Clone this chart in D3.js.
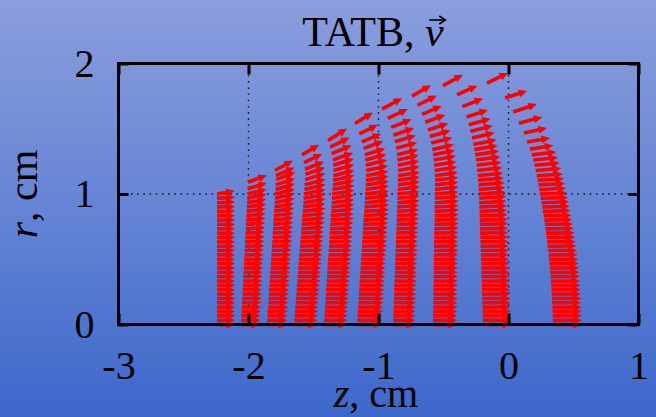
<!DOCTYPE html>
<html><head><meta charset="utf-8">
<script src="https://cdn.jsdelivr.net/npm/d3@7"></script>
<style>html,body{margin:0;padding:0;overflow:hidden;background:#6a86d4}svg{display:block}</style>
</head><body>
<svg id="c" width="656" height="417"></svg>
<script>
// ---- data (cm): each arrow row = [r, z, vz, vr] (tail position and vector, drawn in cm) ----
const xTicks = [-3, -2, -1, 0, 1];
const yTicks = [0, 1, 2];
const xGrid = [-2, -1, 0];
const yGrid = [1];
const titleText = "TATB, ";
const titleVec = "v";
const xLabelVar = "z", xLabelUnit = ", cm";
const yLabelVar = "r", yLabelUnit = ", cm";

const col1 = [[0,-2.242,.138,0],[.033,-2.242,.138,0],[.067,-2.242,.138,0],[.1,-2.242,.138,0],[.133,-2.242,.138,0],[.167,-2.242,.138,0],[.2,-2.242,.138,0],[.233,-2.242,.138,0],[.267,-2.242,.138,0],[.3,-2.242,.138,0],[.333,-2.242,.138,0],[.367,-2.242,.138,0],[.4,-2.242,.138,0],[.433,-2.242,.138,0],[.467,-2.242,.138,0],[.5,-2.242,.138,0],[.533,-2.242,.138,0],[.567,-2.242,.138,0],[.6,-2.242,.138,0],[.633,-2.242,.138,0],[.667,-2.242,.138,0],[.7,-2.242,.138,0],[.733,-2.242,.138,0],[.767,-2.242,.138,0],[.8,-2.242,.138,.001],[.833,-2.242,.138,.001],[.867,-2.242,.138,.002],[.9,-2.242,.138,.003],[.933,-2.242,.138,.005],[.967,-2.242,.138,.008],[1.0,-2.242,.137,.023]];

const col2 = [[0,-2.058,.148,0],[.033,-2.056,.148,0],[.067,-2.055,.148,0],[.1,-2.053,.148,0],[.133,-2.051,.148,0],[.167,-2.050,.148,0],[.2,-2.048,.148,0],[.233,-2.046,.148,0],[.267,-2.045,.148,0],[.3,-2.043,.148,0],[.333,-2.041,.148,0],[.367,-2.040,.148,0],[.4,-2.038,.148,0],[.433,-2.036,.148,0],[.467,-2.035,.148,0],[.5,-2.033,.148,0],[.533,-2.031,.148,.002],[.567,-2.030,.148,.003],[.6,-2.028,.148,.004],[.633,-2.026,.148,.005],[.667,-2.025,.148,.006],[.7,-2.023,.148,.008],[.733,-2.021,.148,.01],[.767,-2.020,.148,.012],[.8,-2.018,.148,.014],[.833,-2.016,.148,.017],[.867,-2.015,.148,.02],[.9,-2.013,.148,.023],[.933,-2.011,.148,.027],[.967,-2.010,.147,.031],[1.0,-2.008,.147,.036],[1.04,-2.006,.147,.044],[1.09,-2.004,.146,.054]];

const col3 = [[0,-1.858,.154,0],[.033,-1.856,.154,0],[.067,-1.854,.154,0],[.1,-1.852,.154,0],[.133,-1.849,.154,0],[.167,-1.847,.154,0],[.2,-1.845,.154,0],[.233,-1.843,.154,0],[.267,-1.841,.154,0],[.3,-1.839,.154,0],[.333,-1.837,.154,0],[.367,-1.835,.154,0],[.4,-1.832,.154,0],[.433,-1.830,.154,0],[.467,-1.828,.154,0],[.5,-1.826,.154,0],[.533,-1.824,.154,.002],[.567,-1.822,.154,.003],[.6,-1.820,.154,.005],[.633,-1.817,.154,.006],[.667,-1.815,.154,.008],[.7,-1.813,.154,.01],[.733,-1.811,.154,.012],[.767,-1.809,.154,.015],[.8,-1.807,.154,.018],[.833,-1.805,.153,.021],[.867,-1.803,.153,.024],[.9,-1.800,.152,.027],[.933,-1.798,.151,.031],[.967,-1.796,.151,.034],[1.0,-1.794,.150,.038],[1.035,-1.792,.149,.043],[1.07,-1.790,.147,.049],[1.11,-1.787,.145,.056],[1.14,-1.788,.143,.064],[1.18,-1.796,.138,.077]];

const col4 = [[0,-1.650,.177,0],[.033,-1.647,.177,0],[.067,-1.645,.177,0],[.1,-1.642,.177,0],[.133,-1.640,.177,0],[.167,-1.637,.177,0],[.2,-1.635,.177,0],[.233,-1.632,.177,0],[.267,-1.629,.177,0],[.3,-1.627,.177,0],[.333,-1.624,.177,0],[.367,-1.622,.177,0],[.4,-1.619,.177,0],[.433,-1.617,.177,0],[.467,-1.614,.177,0],[.5,-1.612,.177,0],[.533,-1.609,.177,.002],[.567,-1.606,.177,.003],[.6,-1.604,.177,.005],[.633,-1.601,.177,.006],[.667,-1.599,.177,.008],[.7,-1.596,.177,.01],[.733,-1.594,.176,.012],[.767,-1.591,.176,.014],[.8,-1.588,.176,.017],[.833,-1.586,.175,.019],[.867,-1.583,.174,.022],[.9,-1.581,.172,.025],[.933,-1.578,.170,.028],[.967,-1.576,.168,.031],[1.0,-1.573,.166,.035],[1.035,-1.570,.163,.039],[1.07,-1.568,.160,.043],[1.11,-1.565,.156,.048],[1.15,-1.563,.152,.053],[1.19,-1.565,.146,.058],[1.24,-1.573,.139,.066],[1.30,-1.588,.131,.077]];

const col5 = [[0,-1.419,.177,0],[.033,-1.417,.177,0],[.067,-1.415,.177,0],[.1,-1.413,.177,0],[.133,-1.411,.177,0],[.167,-1.408,.177,0],[.2,-1.406,.177,0],[.233,-1.404,.177,0],[.267,-1.402,.177,0],[.3,-1.400,.177,0],[.333,-1.398,.177,0],[.367,-1.396,.177,0],[.4,-1.394,.177,0],[.433,-1.392,.177,0],[.467,-1.390,.177,0],[.5,-1.388,.177,0],[.533,-1.385,.177,.001],[.567,-1.383,.177,.002],[.6,-1.381,.177,.004],[.633,-1.379,.177,.005],[.667,-1.377,.177,.006],[.7,-1.375,.177,.008],[.733,-1.373,.177,.01],[.767,-1.371,.177,.012],[.8,-1.369,.177,.014],[.833,-1.367,.176,.016],[.867,-1.364,.175,.018],[.9,-1.362,.174,.02],[.933,-1.360,.173,.022],[.967,-1.358,.171,.025],[1.0,-1.356,.170,.028],[1.035,-1.354,.168,.031],[1.07,-1.352,.166,.034],[1.105,-1.349,.164,.037],[1.14,-1.348,.162,.041],[1.18,-1.347,.160,.045],[1.22,-1.348,.158,.05],[1.26,-1.352,.156,.055],[1.31,-1.360,.154,.062],[1.36,-1.372,.150,.072],[1.41,-1.388,.146,.092]];

const col6 = [[0,-1.165,.192,0],[.033,-1.163,.192,0],[.067,-1.161,.192,0],[.1,-1.159,.192,0],[.133,-1.157,.192,0],[.167,-1.154,.192,0],[.2,-1.152,.192,0],[.233,-1.150,.192,0],[.267,-1.148,.192,0],[.3,-1.146,.192,0],[.333,-1.144,.192,0],[.367,-1.142,.192,0],[.4,-1.140,.192,0],[.433,-1.138,.192,0],[.467,-1.136,.192,0],[.5,-1.134,.192,0],[.533,-1.131,.192,.001],[.567,-1.129,.192,.002],[.6,-1.127,.192,.004],[.633,-1.125,.192,.005],[.667,-1.123,.192,.006],[.7,-1.121,.192,.007],[.733,-1.119,.192,.009],[.767,-1.117,.192,.01],[.8,-1.115,.192,.012],[.833,-1.113,.191,.013],[.867,-1.110,.190,.015],[.9,-1.108,.188,.017],[.933,-1.106,.186,.019],[.967,-1.104,.184,.021],[1.0,-1.102,.182,.023],[1.035,-1.100,.180,.026],[1.07,-1.098,.177,.028],[1.105,-1.096,.174,.031],[1.14,-1.095,.171,.034],[1.18,-1.095,.168,.037],[1.22,-1.097,.164,.041],[1.26,-1.100,.160,.045],[1.30,-1.105,.157,.049],[1.35,-1.115,.152,.055],[1.40,-1.128,.148,.061],[1.46,-1.148,.143,.07],[1.54,-1.181,.138,.084]];

const col7 = [[0,-0.888,.169,0],[.033,-0.887,.169,0],[.067,-0.886,.169,0],[.1,-0.885,.169,0],[.133,-0.883,.169,0],[.167,-0.882,.169,0],[.2,-0.881,.169,0],[.233,-0.880,.169,0],[.267,-0.879,.169,0],[.3,-0.878,.169,0],[.333,-0.876,.169,0],[.367,-0.875,.169,0],[.4,-0.874,.169,0],[.433,-0.873,.169,0],[.467,-0.872,.169,0],[.5,-0.871,.169,0],[.533,-0.869,.169,.001],[.567,-0.868,.169,.002],[.6,-0.867,.169,.003],[.633,-0.866,.169,.004],[.667,-0.865,.169,.005],[.7,-0.864,.169,.006],[.733,-0.862,.169,.007],[.767,-0.861,.169,.008],[.8,-0.860,.169,.01],[.833,-0.859,.169,.011],[.867,-0.858,.169,.012],[.9,-0.857,.169,.014],[.933,-0.855,.169,.015],[.967,-0.854,.169,.017],[1.0,-0.853,.169,.019],[1.035,-0.852,.168,.021],[1.07,-0.851,.168,.023],[1.105,-0.850,.167,.025],[1.14,-0.849,.167,.027],[1.18,-0.849,.166,.03],[1.22,-0.851,.165,.033],[1.26,-0.854,.164,.036],[1.30,-0.858,.163,.039],[1.35,-0.865,.162,.044],[1.40,-0.874,.161,.049],[1.45,-0.886,.160,.055],[1.51,-0.903,.158,.062],[1.58,-0.930,.156,.071],[1.65,-0.973,.154,.084]];

const col8 = [[0,-0.581,.185,0],[.033,-0.581,.185,0],[.067,-0.580,.185,0],[.1,-0.580,.185,0],[.133,-0.579,.185,0],[.167,-0.578,.185,0],[.2,-0.578,.185,0],[.233,-0.578,.185,0],[.267,-0.577,.185,0],[.3,-0.577,.185,0],[.333,-0.576,.185,0],[.367,-0.575,.185,0],[.4,-0.575,.185,0],[.433,-0.575,.185,0],[.467,-0.574,.185,0],[.5,-0.574,.185,0],[.533,-0.573,.185,.001],[.567,-0.572,.185,.001],[.6,-0.572,.185,.003],[.633,-0.572,.185,.003],[.667,-0.571,.185,.004],[.7,-0.571,.185,.005],[.733,-0.570,.185,.006],[.767,-0.569,.185,.007],[.8,-0.569,.185,.008],[.833,-0.569,.185,.009],[.867,-0.568,.185,.01],[.9,-0.568,.184,.012],[.933,-0.567,.183,.013],[.967,-0.566,.182,.014],[1.0,-0.566,.180,.016],[1.035,-0.565,.179,.018],[1.07,-0.565,.178,.02],[1.105,-0.565,.177,.022],[1.14,-0.566,.175,.024],[1.18,-0.568,.173,.026],[1.22,-0.571,.171,.028],[1.26,-0.575,.170,.031],[1.30,-0.580,.168,.034],[1.34,-0.586,.166,.037],[1.39,-0.595,.163,.041],[1.44,-0.606,.160,.046],[1.49,-0.620,.157,.051],[1.55,-0.640,.154,.058],[1.61,-0.665,.151,.065],[1.68,-0.700,.149,.074],[1.75,-0.742,.146,.084]];

const col9 = [[0,-0.196,.215,0],[.033,-0.197,.215,0],[.067,-0.198,.215,0],[.1,-0.199,.215,0],[.133,-0.200,.215,0],[.167,-0.201,.215,0],[.2,-0.202,.215,0],[.233,-0.203,.215,0],[.267,-0.204,.215,0],[.3,-0.205,.215,0],[.333,-0.206,.215,0],[.367,-0.207,.215,0],[.4,-0.208,.215,0],[.433,-0.209,.215,0],[.467,-0.210,.215,0],[.5,-0.212,.215,0],[.533,-0.213,.215,.001],[.567,-0.214,.215,.001],[.6,-0.215,.215,.002],[.633,-0.216,.215,.003],[.667,-0.217,.215,.003],[.7,-0.218,.215,.004],[.733,-0.219,.215,.005],[.767,-0.220,.215,.006],[.8,-0.221,.215,.007],[.833,-0.222,.214,.008],[.867,-0.223,.212,.009],[.9,-0.224,.210,.01],[.933,-0.225,.208,.011],[.967,-0.226,.207,.013],[1.0,-0.227,.205,.014],[1.035,-0.229,.203,.015],[1.07,-0.231,.200,.017],[1.105,-0.234,.198,.018],[1.14,-0.237,.195,.02],[1.18,-0.241,.193,.022],[1.22,-0.245,.190,.024],[1.26,-0.250,.188,.026],[1.30,-0.256,.185,.029],[1.34,-0.263,.182,.032],[1.38,-0.271,.179,.035],[1.43,-0.281,.175,.039],[1.48,-0.293,.172,.043],[1.53,-0.306,.168,.048],[1.59,-0.322,.164,.054],[1.67,-0.355,.160,.062],[1.76,-0.396,.157,.07],[1.83,-0.504,.154,.084]];

const col10 = [[0,.342,.223,0],[.033,.341,.223,0],[.067,.340,.223,0],[.1,.339,.223,0],[.133,.338,.223,0],[.167,.336,.223,0],[.2,.335,.223,0],[.233,.333,.223,0],[.267,.331,.223,0],[.3,.329,.223,0],[.333,.326,.223,0],[.367,.324,.223,0],[.4,.321,.223,0],[.433,.318,.223,0],[.467,.315,.223,0],[.5,.312,.223,0],[.533,.309,.222,.001],[.567,.305,.221,.001],[.6,.301,.220,.002],[.633,.297,.219,.002],[.667,.293,.218,.003],[.7,.289,.217,.003],[.733,.285,.216,.004],[.767,.280,.215,.004],[.8,.275,.214,.005],[.833,.270,.213,.005],[.867,.265,.212,.006],[.9,.260,.211,.006],[.933,.254,.210,.007],[.967,.248,.209,.007],[1.0,.242,.208,.008],[1.035,.236,.206,.009],[1.07,.230,.204,.01],[1.105,.224,.202,.011],[1.14,.217,.200,.013],[1.18,.209,.197,.015],[1.22,.200,.194,.017],[1.26,.191,.190,.02],[1.30,.181,.186,.022],[1.344,.165,.180,.028],[1.398,.142,.177,.031],[1.467,.119,.177,.038],[1.543,.080,.180,.046],[1.628,.035,.183,.061],[1.736,-.027,.170,.054],[1.85,-.165,.162,.077]];

const columns = [col1, col2, col3, col4, col5, col6, col7, col8, col9, col10];

// ---- drawing ----
const W = 656, H = 417;
const svg = d3.select("#c");
const defs = svg.append("defs");
const grad = defs.append("linearGradient").attr("id", "bg").attr("x1", 0).attr("y1", 0).attr("x2", 0).attr("y2", 1);
grad.append("stop").attr("offset", "0%").attr("stop-color", "#8b9edc");
grad.append("stop").attr("offset", "50%").attr("stop-color", "#6584d4");
grad.append("stop").attr("offset", "100%").attr("stop-color", "#3c68cb");
svg.append("rect").attr("width", W).attr("height", H).attr("fill", "url(#bg)");

const x = d3.scaleLinear().domain([-3, 1]).range([118.5, 638.5]);
const y = d3.scaleLinear().domain([0, 2]).range([324.5, 63.5]);
const FONT = "'Liberation Serif', 'Times New Roman', serif";

// grid
const grid = svg.append("g").attr("stroke", "#1a1a2a").attr("stroke-width", 1.4).attr("stroke-dasharray", "1.6,4.6");
grid.selectAll(".gx").data(xGrid).join("line")
  .attr("x1", d => x(d)).attr("x2", d => x(d)).attr("y1", y(0)).attr("y2", y(2));
grid.selectAll(".gy").data(yGrid).join("line")
  .attr("y1", d => y(d)).attr("y2", d => y(d)).attr("x1", x(-3)).attr("x2", x(1));

// arrows
const arrows = [];
columns.forEach(col => col.forEach(([r, z, u, w]) => arrows.push({x0: x(z), y0: y(r), x1: x(z + u), y1: y(r + w)})));
const HL = 8.5, HW = 4.0;
const ag = svg.append("g");
ag.selectAll("line").data(arrows).join("line")
  .attr("x1", d => d.x0).attr("y1", d => d.y0)
  .attr("x2", d => { const L = Math.hypot(d.x1-d.x0, d.y1-d.y0); return d.x1 - (d.x1-d.x0)/L*HL*0.8; })
  .attr("y2", d => { const L = Math.hypot(d.x1-d.x0, d.y1-d.y0); return d.y1 - (d.y1-d.y0)/L*HL*0.8; })
  .attr("stroke", "#ff0000").attr("stroke-width", 3.6);
ag.selectAll("path").data(arrows).join("path")
  .attr("d", d => {
    const dx = d.x1 - d.x0, dy = d.y1 - d.y0, L = Math.hypot(dx, dy);
    const ux = dx / L, uy = dy / L, bx = d.x1 - ux * HL, by = d.y1 - uy * HL;
    return `M${d.x1},${d.y1}L${bx - uy * HW},${by + ux * HW}L${bx + uy * HW},${by - ux * HW}Z`;
  })
  .attr("fill", "#ff0000");

// axes (ticks inward, mirrored)
const fmt = d => String(d);
function styleAxis(g) {
  g.select(".domain").remove();
  g.selectAll(".tick line").attr("stroke", "#000").attr("stroke-width", 3);
  g.selectAll(".tick text").attr("font-family", FONT).attr("font-size", 40).attr("fill", "#000");
}
svg.append("g").attr("transform", `translate(0,${y(0)})`)
  .call(d3.axisBottom(x).tickValues(xTicks).tickFormat(fmt).tickSize(-11).tickPadding(26)).call(styleAxis);
svg.append("g").attr("transform", `translate(0,${y(2)})`)
  .call(d3.axisTop(x).tickValues(xTicks).tickFormat("").tickSize(-11)).call(styleAxis);
svg.append("g").attr("transform", `translate(${x(-3)},0)`)
  .call(d3.axisLeft(y).tickValues(yTicks).tickFormat(fmt).tickSize(-10).tickPadding(24)).call(styleAxis);
svg.append("g").attr("transform", `translate(${x(1)},0)`)
  .call(d3.axisRight(y).tickValues(yTicks).tickFormat("").tickSize(-10)).call(styleAxis);

// frame
svg.append("rect").attr("x", x(-3)).attr("y", y(2)).attr("width", x(1) - x(-3)).attr("height", y(0) - y(2))
  .attr("fill", "none").attr("stroke", "#000").attr("stroke-width", 3);

// title
const t = svg.append("text").attr("x", 373).attr("y", 46).attr("text-anchor", "middle")
  .attr("font-family", FONT).attr("font-size", 42).attr("fill", "#000");
t.append("tspan").text(titleText);
t.append("tspan").attr("font-style", "italic").text(titleVec);
{
  const n = titleText.length;
  const ext = t.node().getExtentOfChar(n);
  const cx = ext.x + ext.width / 2 + 3, ty = 46 - 26;
  svg.append("path").attr("d", `M${cx - 8},${ty}L${cx + 7},${ty}`).attr("stroke", "#000").attr("stroke-width", 1.6);
  svg.append("path").attr("d", `M${cx + 2},${ty - 4}L${cx + 8},${ty}L${cx + 2},${ty + 4}`).attr("stroke", "#000").attr("stroke-width", 1.6).attr("fill", "none");
}

// axis labels
const xl = svg.append("text").attr("x", 376).attr("y", 407).attr("text-anchor", "middle")
  .attr("font-family", FONT).attr("font-size", 40).attr("fill", "#000");
xl.append("tspan").attr("font-style", "italic").text(xLabelVar);
xl.append("tspan").text(xLabelUnit);
const yl = svg.append("text").attr("transform", "translate(37,194) rotate(-90)").attr("text-anchor", "middle")
  .attr("font-family", FONT).attr("font-size", 42).attr("fill", "#000");
yl.append("tspan").attr("font-style", "italic").text(yLabelVar);
yl.append("tspan").text(yLabelUnit);
</script>
</body></html>
